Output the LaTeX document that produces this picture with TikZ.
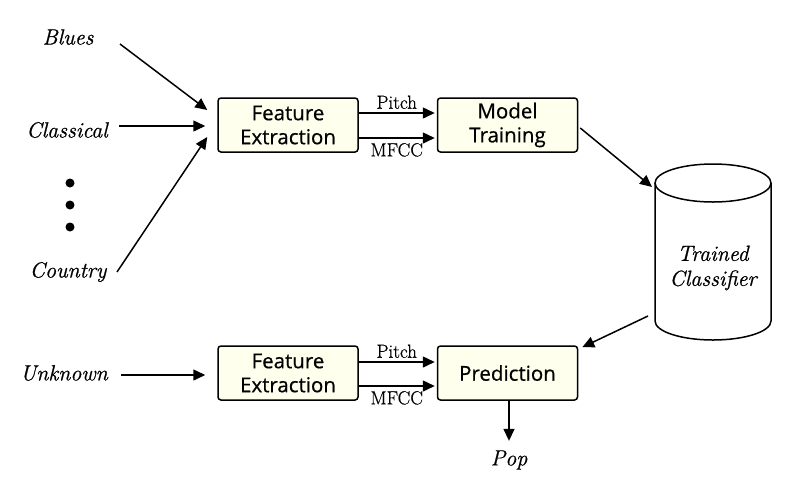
\documentclass[tikz,border=0pt]{standalone}
\usepackage{fontspec}
\newfontfamily\boxfont[FakeBold=0.6]{Open Sans}
\newfontfamily\labelfont[FakeBold=0.8]{Latin Modern Roman}
\usetikzlibrary{arrows.meta,calc}
\definecolor{boxfill}{RGB}{255,255,238}
\tikzset{
  stage/.style={draw, line width=1.5pt, rounded corners=3pt, fill=boxfill,
    minimum width=140pt, minimum height=54pt, align=center,
    font=\boxfont\fontsize{20.5}{24}\selectfont},
  genre/.style={font=\labelfont\itshape\fontsize{22}{25}\selectfont, align=center},
  feat/.style={font=\labelfont\fontsize{19}{21}\selectfont},
  flow/.style={-{Triangle[length=12pt,width=11pt]}, line width=1.5pt},
}
\begin{document}
\begin{tikzpicture}[x=1pt,y=-1pt]
  \useasboundingbox (0,0) rectangle (801,496);
  \draw
    (288,125) node[stage] (fe1){Feature\\Extraction}
    (507.5,125) node[stage] (train){Model\\Training}
    (288,373) node[stage] (fe2){Feature\\Extraction}
    (507.5,373) node[stage] (pred){Prediction}
    (68,37) node[genre] (blues){Blues}
    (67,130) node[genre] (classical){Classical}
    (68,272) node[genre] (country){Country}
    (64,373) node[genre] (unknown){Unknown}
    (509,460) node[genre] (pop){Pop}
    (713,268) node[genre] (clf){Trained\\Classifier};
  % cylinder
  \begin{scope}[line width=1.5pt]
    \draw (655,183) -- (655,321) arc[start angle=180, end angle=0, x radius=58, y radius=19] -- (771,183);
    \draw (713,183) ellipse[x radius=58, y radius=19];
  \end{scope}
  \coordinate (clfin) at (652,187);
  \coordinate (clfout) at (648,316);
  \foreach \y in {183,205,227}
    \fill (70,\y) circle (4.5pt);
  \begin{scope}[flow]
    \draw ($(blues)+(52,7)$) to ($(fe1.west)+(-10,-15)$);
    \draw ($(classical)+(52,-4)$) to ($(fe1.west)+(-12,1)$);
    \draw ($(country)+(49,0)$) to ($(fe1.west)+(-10,12)$);
    \draw ($(unknown)+(57,2)$) to ($(fe2.west)+(-12,2)$);
    \draw ($(fe1.east)+(0,-12)$) to node[feat, above=0pt] {Pitch} ($(train.west)+(-2,-12)$);
    \draw ($(fe1.east)+(0,13)$) to node[feat, below=1pt] {MFCC} ($(train.west)+(-2,13)$);
    \draw ($(fe2.east)+(0,-11)$) to node[feat, above=0pt] {Pitch} ($(pred.west)+(-2,-11)$);
    \draw ($(fe2.east)+(0,13)$) to node[feat, below=1pt] {MFCC} ($(pred.west)+(-2,13)$);
    \draw ($(train.east)+(2,3)$) to (clfin);
    \draw (clfout) to ($(pred.north east)+(4,2)$);
    \draw ($(pred.south)+(1.5,0)$) to ($(pop.north)+(0,-6)$);
  \end{scope}
\end{tikzpicture}
\end{document}
